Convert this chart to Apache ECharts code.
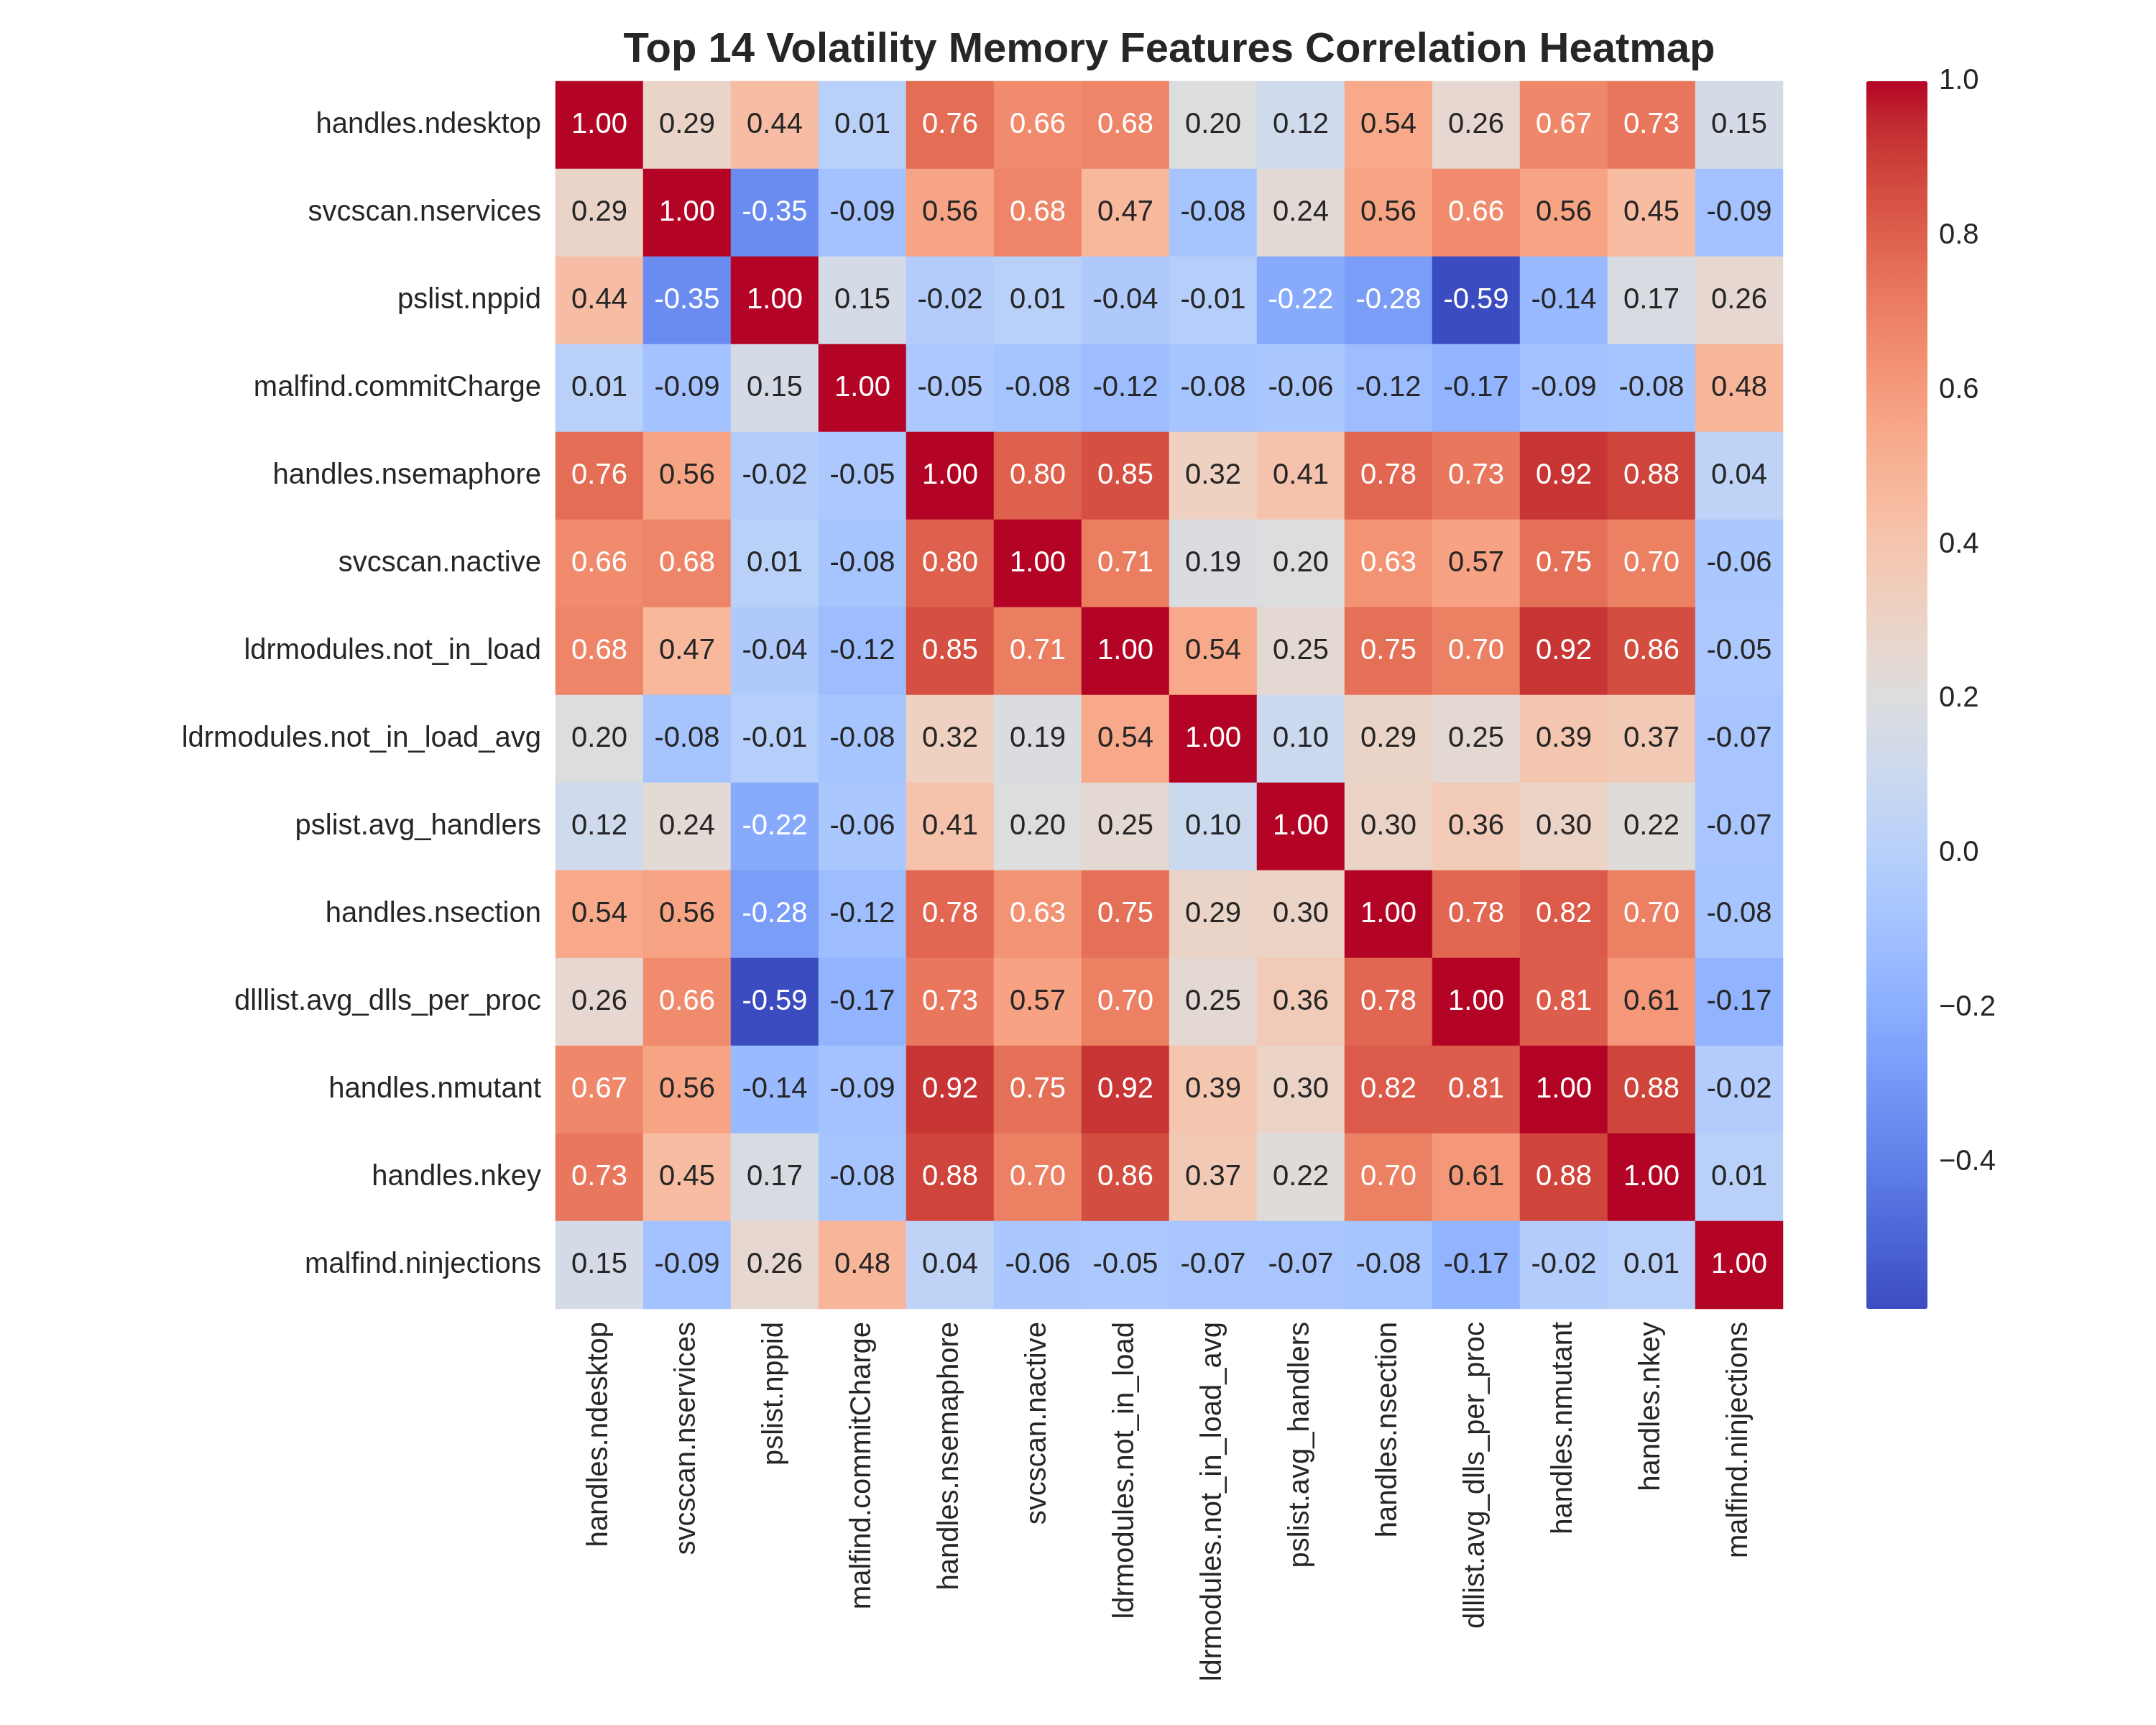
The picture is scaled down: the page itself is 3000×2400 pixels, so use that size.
<!DOCTYPE html>
<html>
<head>
<meta charset="utf-8">
<script src="https://cdn.jsdelivr.net/npm/echarts@6/dist/echarts.min.js"></script>
<style>
  html, body { margin: 0; padding: 0; background: #fff; }
  #chart { width: 3000px; height: 2400px; }
</style>
</head>
<body>
<div id="chart"></div>
<script>
// feature names (same order on both axes)
const features = [
  'handles.ndesktop', 'svcscan.nservices', 'pslist.nppid', 'malfind.commitCharge',
  'handles.nsemaphore', 'svcscan.nactive', 'ldrmodules.not_in_load', 'ldrmodules.not_in_load_avg',
  'pslist.avg_handlers', 'handles.nsection', 'dlllist.avg_dlls_per_proc', 'handles.nmutant',
  'handles.nkey', 'malfind.ninjections'
];

// correlation matrix, one row per feature
const corr = [
  [1.00, 0.29, 0.44, 0.01, 0.76, 0.66, 0.68, 0.20, 0.12, 0.54, 0.26, 0.67, 0.73, 0.15],
  [0.29, 1.00, -0.35, -0.09, 0.56, 0.68, 0.47, -0.08, 0.24, 0.56, 0.66, 0.56, 0.45, -0.09],
  [0.44, -0.35, 1.00, 0.15, -0.02, 0.01, -0.04, -0.01, -0.22, -0.28, -0.59, -0.14, 0.17, 0.26],
  [0.01, -0.09, 0.15, 1.00, -0.05, -0.08, -0.12, -0.08, -0.06, -0.12, -0.17, -0.09, -0.08, 0.48],
  [0.76, 0.56, -0.02, -0.05, 1.00, 0.80, 0.85, 0.32, 0.41, 0.78, 0.73, 0.92, 0.88, 0.04],
  [0.66, 0.68, 0.01, -0.08, 0.80, 1.00, 0.71, 0.19, 0.20, 0.63, 0.57, 0.75, 0.70, -0.06],
  [0.68, 0.47, -0.04, -0.12, 0.85, 0.71, 1.00, 0.54, 0.25, 0.75, 0.70, 0.92, 0.86, -0.05],
  [0.20, -0.08, -0.01, -0.08, 0.32, 0.19, 0.54, 1.00, 0.10, 0.29, 0.25, 0.39, 0.37, -0.07],
  [0.12, 0.24, -0.22, -0.06, 0.41, 0.20, 0.25, 0.10, 1.00, 0.30, 0.36, 0.30, 0.22, -0.07],
  [0.54, 0.56, -0.28, -0.12, 0.78, 0.63, 0.75, 0.29, 0.30, 1.00, 0.78, 0.82, 0.70, -0.08],
  [0.26, 0.66, -0.59, -0.17, 0.73, 0.57, 0.70, 0.25, 0.36, 0.78, 1.00, 0.81, 0.61, -0.17],
  [0.67, 0.56, -0.14, -0.09, 0.92, 0.75, 0.92, 0.39, 0.30, 0.82, 0.81, 1.00, 0.88, -0.02],
  [0.73, 0.45, 0.17, -0.08, 0.88, 0.70, 0.86, 0.37, 0.22, 0.70, 0.61, 0.88, 1.00, 0.01],
  [0.15, -0.09, 0.26, 0.48, 0.04, -0.06, -0.05, -0.07, -0.07, -0.08, -0.17, -0.02, 0.01, 1.00]
];

// colorbar range and tick labels
const cbMin = -0.59;
const cbMax = 1.0;
const cbTicks = [-0.4, -0.2, 0.0, 0.2, 0.4, 0.6, 0.8, 1.0];

// coolwarm colormap, 33 evenly spaced stops
const coolwarm = [
  '#3b4cc0', '#445acc', '#4d68d7', '#5775e1', '#6282ea', '#6c8ef1', '#779af7', '#82a5fb',
  '#8db0fe', '#98b9ff', '#a3c2ff', '#aec9fd', '#b8d0f9', '#c2d5f4', '#ccd9ee', '#d5dbe6',
  '#dddddd', '#e5d8d1', '#ecd3c5', '#f1ccb9', '#f5c4ad', '#f7bba0', '#f7b194', '#f7a687',
  '#f49a7b', '#f18d6f', '#ec7f63', '#e57058', '#de604d', '#d55042', '#cb3e38', '#c0282f',
  '#b40426'
];

const FONT = '"Liberation Sans", Arial, Helvetica, sans-serif';
const TXT = '#262626';

const chart = echarts.init(document.getElementById('chart'), null, { renderer: 'canvas' });

const cells = [];
corr.forEach((row, i) => {
  row.forEach((v, j) => {
    // white text on the darker cells
    const light = v > 0.62 || v < -0.2;
    cells.push({
      value: [j, i, v],
      label: { color: light ? '#ffffff' : TXT }
    });
  });
});

// grid for heatmap: 14 square cells of 122px
const gLeft = 773, gTop = 113, gSize = 1708;
// colorbar axis grid extends to -0.6 so ticks line up with the bar
const cbPx = gSize / (cbMax - cbMin);
const cbGridH = cbPx * (cbMax - (-0.6));

const option = {
  animation: false,
  backgroundColor: '#ffffff',
  title: {
    text: 'Top 14 Volatility Memory Features Correlation Heatmap',
    left: gLeft + gSize / 2,
    top: 41,
    padding: 0,
    textAlign: 'center',
    textStyle: { fontFamily: FONT, fontSize: 58, fontWeight: 'bold', color: TXT }
  },
  grid: [
    { left: gLeft, top: gTop, width: gSize, height: gSize },
    { left: 2597, top: gTop, width: 85, height: cbGridH }
  ],
  xAxis: [
    {
      type: 'category',
      gridIndex: 0,
      data: features,
      position: 'bottom',
      axisLine: { show: false },
      axisTick: { show: false },
      splitLine: { show: false },
      axisLabel: {
        interval: 0, rotate: 90, margin: 18,
        fontFamily: FONT, fontSize: 40, color: TXT
      }
    },
    {
      type: 'value', gridIndex: 1, min: 0, max: 1, show: false
    }
  ],
  yAxis: [
    {
      type: 'category',
      gridIndex: 0,
      data: features,
      inverse: true,
      axisLine: { show: false },
      axisTick: { show: false },
      splitLine: { show: false },
      axisLabel: {
        interval: 0, margin: 20,
        fontFamily: FONT, fontSize: 40, color: TXT
      }
    },
    {
      type: 'value',
      gridIndex: 1,
      position: 'right',
      min: -0.6,
      max: 1.0,
      interval: 0.2,
      axisLine: { show: false },
      axisTick: { show: false },
      splitLine: { show: false },
      axisLabel: {
        margin: 16,
        fontFamily: FONT, fontSize: 40, color: TXT,
        formatter: (v) => {
          const r = Math.round(v * 10) / 10;
          if (!cbTicks.some(t => Math.abs(t - r) < 1e-6)) return '';
          return (r < 0 ? '\u2212' : '') + Math.abs(r).toFixed(1);
        }
      }
    }
  ],
  visualMap: {
    type: 'continuous',
    min: cbMin,
    max: cbMax,
    dimension: 2,
    seriesIndex: 0,
    calculable: false,
    hoverLink: false,
    orient: 'vertical',
    left: 2597,
    top: gTop,
    padding: 0,
    itemWidth: 85,
    itemHeight: gSize,
    text: null,
    showLabel: false,
    inRange: { color: coolwarm }
  },
  series: [
    {
      type: 'heatmap',
      xAxisIndex: 0,
      yAxisIndex: 0,
      data: cells,
      itemStyle: { borderWidth: 0 },
      label: {
        show: true,
        fontFamily: FONT,
        fontSize: 40,
        formatter: (p) => p.value[2].toFixed(2)
      },
      emphasis: { disabled: true }
    },
    {
      type: 'line',
      xAxisIndex: 1,
      yAxisIndex: 1,
      data: [],
      silent: true
    }
  ]
};

chart.setOption(option);
</script>
</body>
</html>
